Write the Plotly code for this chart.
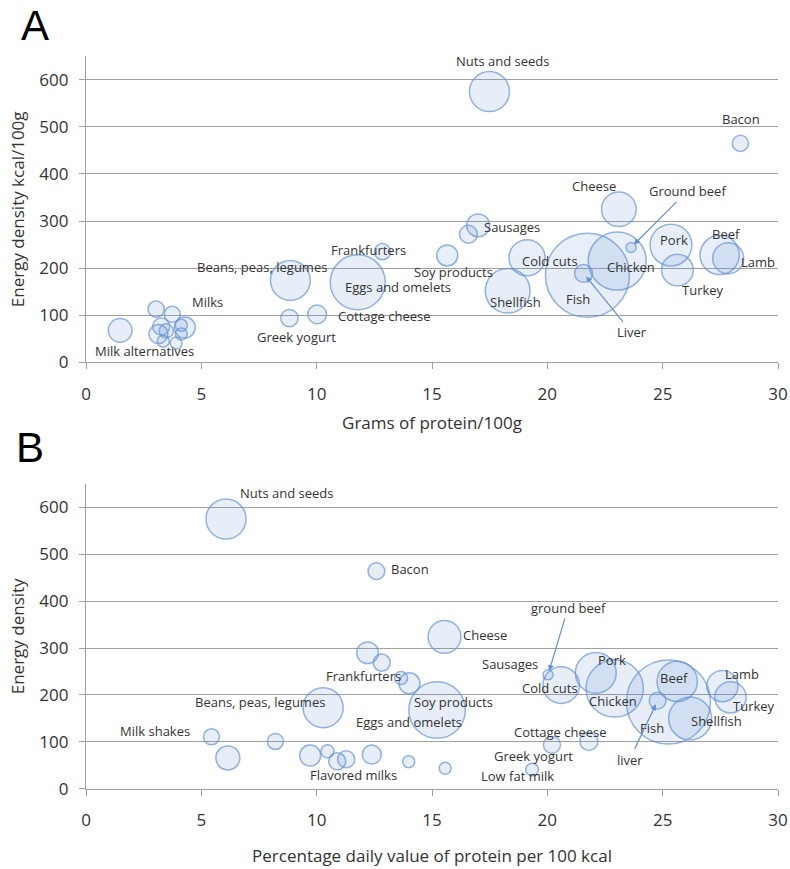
import plotly.graph_objects as go

# ---------------- Panel A data: grams of protein / 100 g vs energy density ----------------
a_food = ["Nuts and seeds", "Bacon", "Cheese", "Ground beef", "Sausages", "Sausages 2",
          "Soy products", "Frankfurters", "Cold cuts", "Shellfish", "Fish", "Liver",
          "Chicken", "Pork", "Turkey", "Beef", "Lamb", "Beans, peas, legumes",
          "Eggs and omelets", "Greek yogurt", "Cottage cheese", "Milk alternatives",
          "Milk a", "Milks", "Milk c", "Milk d", "Milk e", "Milk f", "Milk g",
          "Milk h", "Milk i", "Milk j"]
a_protein = [17.49, 28.37, 23.10, 23.63, 17.0, 16.58,
             15.66, 12.85, 19.12, 18.28, 21.74, 21.57,
             23.03, 25.36, 25.64, 27.47, 27.84, 8.86,
             11.78, 8.82, 10.02, 1.48,
             3.04, 3.74, 3.26, 4.28, 3.14, 3.48, 4.13,
             3.35, 3.91, 4.13]
a_energy = [575, 465, 325, 244, 291, 272,
            227, 235, 222, 152, 185, 189,
            215, 249, 196, 228, 221, 174,
            170, 94, 102, 68,
            113, 102, 76, 74, 60, 67, 79,
            45, 41, 60]
a_amount = [80, 13, 60, 5, 26, 16,
            22, 13, 65, 100, 353, 16,
            168, 87, 50, 77, 48, 79,
            151, 15, 17.5, 28,
            13.3, 12.8, 14.5, 22, 18, 9.8, 7.2,
            7.2, 7.2, 7.2]

# ---------------- Panel B data: % daily value of protein per 100 kcal vs energy density ----------------
b_food = ["Nuts and seeds", "Bacon", "Cheese", "Sausages", "Sausages 2", "Frankfurters",
          "Soy", "Beans, peas, legumes", "Eggs and omelets", "Milk shakes", "Milk alt",
          "Milk 3", "Milk 4", "Milk 5", "Flavored milks", "Milk 7", "Milk 8", "Milk 9",
          "Milk 10", "Low fat milk", "Greek yogurt", "Cottage cheese", "ground beef",
          "Cold cuts", "Pork", "Chicken", "Fish", "liver", "Beef", "Shellfish",
          "Lamb", "Turkey"]
b_pdv = [6.07, 12.59, 15.54, 12.21, 12.82, 13.66,
         14.02, 10.28, 15.22, 5.44, 6.15,
         8.21, 9.72, 10.47, 10.89, 11.28, 12.39, 13.99,
         15.57, 19.34, 20.2, 21.8, 20.03,
         20.6, 22.1, 22.92, 25.25, 24.78, 25.63, 26.19,
         27.59, 27.94]
b_energy = [575, 464, 324, 290, 269, 236,
            225, 173, 168, 111, 66,
            101, 71, 80, 59, 63, 73, 58,
            44, 41, 94, 101, 243,
            221, 247, 214, 185, 188, 229, 150,
            219, 195]
b_amount = [80, 14, 54, 23.5, 14.5, 8.5,
            22, 80, 160, 12.8, 28.8,
            12.8, 22, 8.5, 14.5, 14.5, 18, 7.2,
            7.2, 8, 14.5, 16.2, 5,
            67, 83, 164, 353, 14, 81, 92,
            49, 49]

x_ticks = [0, 5, 10, 15, 20, 25, 30]
y_ticks = [0, 100, 200, 300, 400, 500, 600]

# label placement: (text, food it belongs to, pixel dx, pixel dy)
a_labels = [("Nuts and seeds", "Nuts and seeds", 13, -31), ("Bacon", "Bacon", 1, -24),
            ("Cheese", "Cheese", -25, -23), ("Sausages", "Sausages", 34, 2),
            ("Frankfurters", "Frankfurters", -14, -2),
            ("Beans, peas, legumes", "Beans, peas, legumes", -28, -13),
            ("Eggs and omelets", "Eggs and omelets", 40, 5),
            ("Soy products", "Soy products", 6, 17),
            ("Cottage cheese", "Cottage cheese", 67, 2),
            ("Greek yogurt", "Greek yogurt", 7, 19), ("Milks", "Milks", 35, -12),
            ("Milk alternatives", "Milk alternatives", 24, 21),
            ("Shellfish", "Shellfish", 8, 11), ("Cold cuts", "Cold cuts", 23, 3),
            ("Fish", "Fish", -9, 24), ("Chicken", "Chicken", 14, 6),
            ("Pork", "Pork", 3, -5), ("Turkey", "Turkey", 26, 20),
            ("Beef", "Beef", 6, -21), ("Lamb", "Lamb", 30, 4)]
a_arrows = [("Ground beef", "Ground beef", 56, -56), ("Liver", "Liver", 48, 59)]

b_labels = [("Nuts and seeds", "Nuts and seeds", 60, -26), ("Bacon", "Bacon", 34, -2),
            ("Cheese", "Cheese", 41, -2), ("Frankfurters", "Frankfurters", -38, -2),
            ("Beans, peas, legumes", "Beans, peas, legumes", -63, -6),
            ("Milk shakes", "Milk shakes", -56, -6),
            ("Soy products", "Eggs and omelets", 16, -8),
            ("Eggs and omelets", "Eggs and omelets", -28, 12),
            ("Flavored milks", "Flavored milks", 16, 14),
            ("Cottage cheese", "Cottage cheese", -28, -9),
            ("Greek yogurt", "Greek yogurt", -18, 11),
            ("Low fat milk", "Low fat milk", -15, 6),
            ("Sausages", "ground beef", -38, -11), ("Cold cuts", "Cold cuts", -11, 3),
            ("Pork", "Pork", 16, -13), ("Chicken", "Chicken", -2, 13),
            ("Beef", "Beef", -3, -3), ("Fish", "Fish", -16, 26),
            ("Shellfish", "Shellfish", 26, 3), ("Lamb", "Lamb", 20, -12),
            ("Turkey", "Turkey", 24, 9)]
b_arrows = [("ground beef", "ground beef", 20, -67), ("liver", "liver", -28, 59)]

FILL = "rgba(91,139,208,0.2)"
EDGE = "rgb(100,145,212)"
GRID = "#A0A0A0"
TXT = "#333333"
FONT = "Open Sans"
LSIZE = 13

fig = go.Figure()


def bubbles(x, y, s, xa, ya):
    fig.add_trace(go.Scatter(
        x=x, y=y, mode="markers", xaxis=xa, yaxis=ya, showlegend=False,
        hoverinfo="skip",
        marker=dict(size=s, sizemode="area", sizeref=0.1, color=FILL,
                    line=dict(color=EDGE, width=1.5))))


bubbles(a_protein, a_energy, a_amount, "x", "y")
bubbles(b_pdv, b_energy, b_amount, "x2", "y2")

annotations = []


def add_labels(labels, arrows, foods, xs, ys, xref, yref):
    for text, food, dx, dy in labels:
        i = foods.index(food)
        annotations.append(dict(x=xs[i], y=ys[i], xref=xref, yref=yref, text=text,
                                showarrow=False, xshift=dx, yshift=-dy,
                                font=dict(family=FONT, size=LSIZE, color=TXT)))
    for text, food, ax, ay in arrows:
        i = foods.index(food)
        annotations.append(dict(x=xs[i], y=ys[i], xref=xref, yref=yref, text=text,
                                showarrow=True, ax=ax, ay=ay, arrowhead=2,
                                arrowsize=1, arrowwidth=1.2, arrowcolor=EDGE,
                                standoff=4,
                                font=dict(family=FONT, size=LSIZE, color=TXT)))


add_labels(a_labels, a_arrows, a_food, a_protein, a_energy, "x", "y")
add_labels(b_labels, b_arrows, b_food, b_pdv, b_energy, "x2", "y2")

# panel letters
annotations.append(dict(x=-0.073, y=1.0, xref="paper", yref="paper", text="A",
                        xanchor="center", yanchor="top", showarrow=False,
                        font=dict(family="Liberation Sans", size=42, color="black")))
annotations.append(dict(x=-0.081, y=0.478, xref="paper", yref="paper", text="B",
                        xanchor="center", yanchor="middle", showarrow=False,
                        font=dict(family="Liberation Sans", size=42, color="black")))

xcommon = dict(range=[0, 30], tickvals=x_ticks, showgrid=False, zeroline=False,
               showline=True, linecolor=GRID, linewidth=1.3, ticks="outside",
               tickcolor=GRID, ticklen=6, tickwidth=1.3,
               tickfont=dict(family=FONT, size=17, color=TXT), ticklabelstandoff=10)
ycommon = dict(range=[0, 650], tickvals=y_ticks, showgrid=True, gridcolor=GRID,
               gridwidth=1.3, zeroline=False, showline=True, linecolor=GRID,
               linewidth=1.3, ticks="outside", tickcolor=GRID, ticklen=6, tickwidth=1.3,
               tickfont=dict(family=FONT, size=17, color=TXT), ticklabelstandoff=7)

fig.update_layout(
    width=790, height=869, margin=dict(l=86, r=12, t=0, b=0),
    plot_bgcolor="white", paper_bgcolor="white",
    xaxis=dict(**xcommon, domain=[0, 1], anchor="y",
               title=dict(text="Grams of protein/100g", standoff=13,
                          font=dict(family=FONT, size=17, color=TXT))),
    yaxis=dict(**ycommon, domain=[0.5777, 0.9344], anchor="x",
               title=dict(text="Energy density kcal/100g", standoff=10,
                          font=dict(family=FONT, size=17, color=TXT))),
    xaxis2=dict(**xcommon, domain=[0, 1], anchor="y2",
                title=dict(text="Percentage daily value of protein per 100 kcal", standoff=19,
                           font=dict(family=FONT, size=17, color=TXT))),
    yaxis2=dict(**ycommon, domain=[0.0806, 0.4361], anchor="x2",
                title=dict(text="Energy density", standoff=10,
                           font=dict(family=FONT, size=17, color=TXT))),
    annotations=annotations,
)

fig.write_html("out.html", config={"displayModeBar": False},
               post_script="document.body.style.margin='0';")
